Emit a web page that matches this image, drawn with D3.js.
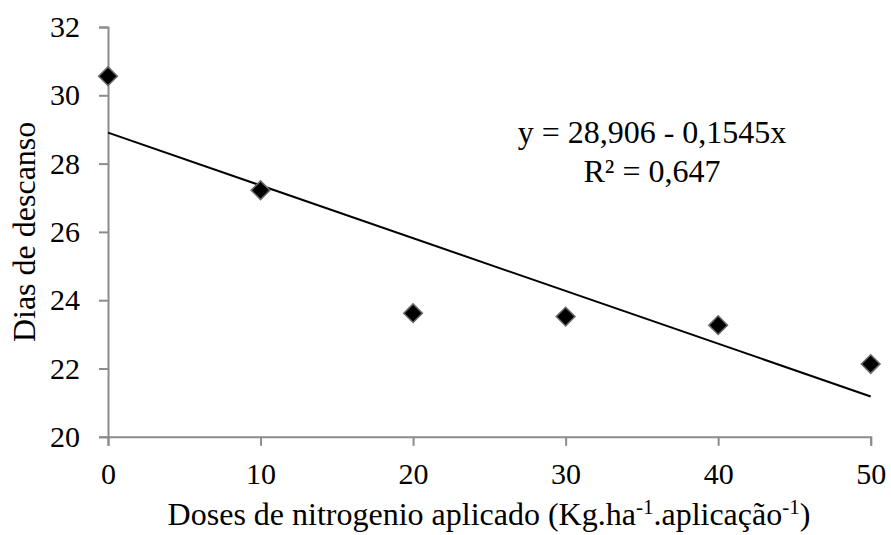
<!DOCTYPE html>
<html>
<head>
<meta charset="utf-8">
<script src="https://cdn.jsdelivr.net/npm/d3@7"></script>
<style>
  body { margin: 0; background: #fff; }
  text { font-family: "Liberation Serif", "Times New Roman", serif; fill: #000; }
</style>
</head>
<body>
<svg id="chart" width="891" height="535"></svg>
<script>
const doses = [0, 10, 20, 30, 40, 50];
const dias = [30.56, 27.22, 23.62, 23.52, 23.27, 22.13];
const xTicks = [0, 10, 20, 30, 40, 50];
const yTicks = [20, 22, 24, 26, 28, 30, 32];
const fitIntercept = 28.906;
const fitSlope = -0.1545;
const fitLabel = 'y = 28,906 - 0,1545x';
const r2Label = 'R² = 0,647';

const margin = {left: 108, top: 27};
const svg = d3.select('#chart');

const x = d3.scaleLinear().domain([0, 50]).range([margin.left, 870.7]);
const y = d3.scaleLinear().domain([20, 32]).range([436.8, margin.top]);

const axisColor = '#8c8c8c';

function styleAxis(g) {
  g.select('.domain').attr('stroke', axisColor).attr('stroke-width', 2);
  g.selectAll('.tick line').attr('stroke', axisColor).attr('stroke-width', 2);
  g.selectAll('.tick text')
      .attr('font-size', 30)
      .attr('font-family', '"Liberation Serif", serif');
}

// y axis
svg.append('g')
    .attr('transform', `translate(${margin.left},0)`)
    .call(d3.axisLeft(y).tickValues(yTicks).tickSize(9).tickPadding(19))
    .call(styleAxis);

// x axis
svg.append('g')
    .attr('transform', `translate(0,${y(20)})`)
    .call(d3.axisBottom(x).tickValues(xTicks).tickSize(9).tickPadding(17))
    .call(styleAxis);

// trend line
svg.append('line')
    .attr('x1', x(0))
    .attr('y1', y(fitIntercept))
    .attr('x2', x(50))
    .attr('y2', y(fitIntercept + fitSlope * 50))
    .attr('stroke', '#000')
    .attr('stroke-width', 2);

// markers
const sym = d3.symbol().type(d3.symbolSquare).size(175);
svg.append('g').selectAll('path')
  .data(doses.map((d, i) => ({x: d, y: dias[i]})))
  .join('path')
    .attr('d', sym)
    .attr('transform', d => `translate(${x(d.x)},${y(d.y)}) rotate(45)`)
    .attr('fill', '#000')
    .attr('stroke', '#6b6b6b')
    .attr('stroke-width', 1.5);

// equation
const eq = svg.append('g')
    .attr('font-size', 32)
    .attr('text-anchor', 'middle');
eq.append('text').attr('x', 652).attr('y', 143).text(fitLabel);
eq.append('text').attr('x', 652).attr('y', 182).text(r2Label);

// axis titles
svg.append('text')
    .attr('transform', `translate(35,${(y(20) + y(32)) / 2}) rotate(-90)`)
    .attr('text-anchor', 'middle')
    .attr('font-size', 32)
    .text('Dias de descanso');

const xt = svg.append('text')
    .attr('x', 489)
    .attr('y', 525)
    .attr('text-anchor', 'middle')
    .attr('font-size', 32);
xt.append('tspan').text('Doses de nitrogenio aplicado (Kg.ha');
xt.append('tspan').attr('font-size', 21).attr('dy', -11).text('-1');
xt.append('tspan').attr('dy', 11).text('.aplicação');
xt.append('tspan').attr('font-size', 21).attr('dy', -11).text('-1');
xt.append('tspan').attr('dy', 11).text(')');
</script>
</body>
</html>
